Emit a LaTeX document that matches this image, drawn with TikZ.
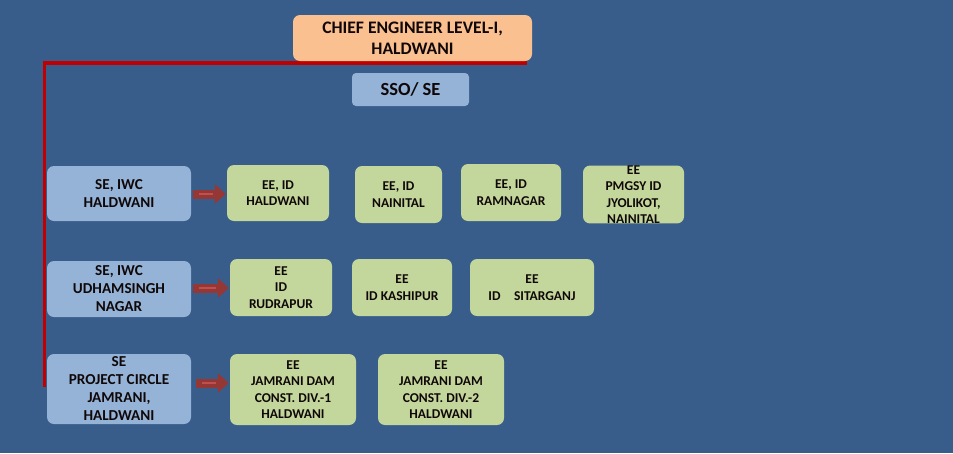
\documentclass[tikz,border=0pt]{standalone}
\usepackage{fontspec}
\setmainfont{Carlito}
\usetikzlibrary{arrows.meta}
\definecolor{bg}{HTML}{385D8A}
\definecolor{bluebox}{HTML}{95B3D7}
\definecolor{greenbox}{HTML}{C3D69B}
\definecolor{peach}{HTML}{FAC090}
\definecolor{redline}{HTML}{C00000}
\definecolor{arrowdark}{HTML}{953735}
\definecolor{arrowlight}{HTML}{C0504D}
\definecolor{txt}{HTML}{100808}
\tikzset{
  box/.style={rounded corners=7pt, inner sep=0pt, align=center, text=txt},
  sebox/.style={box, fill=bluebox, font=\fontsize{15.2}{18}\selectfont\bfseries},
  eebox/.style={box, fill=greenbox, font=\fontsize{13.5}{16.4}\selectfont\bfseries},
  blockarrow/.style={line width=9pt, arrowdark, -{Triangle[length=11pt,width=19pt]}, shorten <=2pt, shorten >=1pt},
  arrowshine/.style={line width=2.5pt, arrowlight, shorten <=8pt, shorten >=14pt},
}
\begin{document}
\begin{tikzpicture}[x=1pt,y=-1pt]
\fill[bg] (0,0) rectangle (953,453);
\useasboundingbox (0,0) rectangle (953,453);
% red organisation line (behind boxes)
\coordinate (lineR) at (527,63);
\coordinate (lineC) at (44.5,63);
\coordinate (lineB) at (44.5,387);
\draw[redline, line width=3.2pt] (lineR) -- (lineC) -- (lineB);
% top
\node[box, fill=peach, minimum width=239pt, minimum height=46pt,
      font=\fontsize{17.6}{21}\selectfont\bfseries] (chief) at (412.5,38)
      {CHIEF ENGINEER LEVEL-I,\\HALDWANI};
\node[box, fill=bluebox, rounded corners=4pt, minimum width=117pt, minimum height=33pt,
      font=\fontsize{18.5}{20}\selectfont\bfseries] (sso) at (410.5,89.5) {SSO/ SE};
% row 1
\node[sebox, minimum width=144pt, minimum height=55pt] (se1) at (119,193.5) {SE, IWC\\HALDWANI};
\node[eebox, minimum width=102pt, minimum height=56pt] (ee1a) at (278,193) {EE, ID\\HALDWANI};
\node[eebox, minimum width=87pt, minimum height=57pt] (ee1b) at (398.5,194.5) {EE, ID\\NAINITAL};
\node[eebox, minimum width=100pt, minimum height=57pt] (ee1c) at (511,192.5) {EE, ID\\RAMNAGAR};
\node[eebox, minimum width=101pt, minimum height=57pt] (ee1d) at (633.5,194.5) {EE\\PMGSY ID\\JYOLIKOT,\\NAINITAL};
% row 2
\node[sebox, minimum width=144pt, minimum height=56pt] (se2) at (119,289) {SE, IWC\\UDHAMSINGH\\NAGAR};
\node[eebox, minimum width=102pt, minimum height=57pt] (ee2a) at (281,287.5) {EE\\ID\\RUDRAPUR};
\node[eebox, minimum width=100pt, minimum height=57pt] (ee2b) at (402,287.5) {EE\\ID KASHIPUR};
\node[eebox, minimum width=124pt, minimum height=57pt] (ee2c) at (532,287.5) {EE\\ID\quad SITARGANJ};
% row 3
\node[sebox, minimum width=144pt, minimum height=70pt] (se3) at (119,389) {SE\\PROJECT CIRCLE\\JAMRANI,\\HALDWANI};
\node[eebox, minimum width=126pt, minimum height=71pt] (ee3a) at (293,389.5) {EE\\JAMRANI DAM\\CONST. DIV.-1\\HALDWANI};
\node[eebox, minimum width=126pt, minimum height=71pt] (ee3b) at (441,389.5) {EE\\JAMRANI DAM\\CONST. DIV.-2\\HALDWANI};
% arrows
\draw[blockarrow] (se1.east |- 0,194) -- (ee1a.west |- 0,194);
\draw[arrowshine] (se1.east |- 0,194) -- (ee1a.west |- 0,194);
\draw[blockarrow] (se2.east |- 0,288) -- (ee2a.west |- 0,288);
\draw[arrowshine] (se2.east |- 0,288) -- (ee2a.west |- 0,288);
\draw[blockarrow, shorten <=5pt] (se3.east |- 0,383) -- (ee3a.west |- 0,383);
\draw[arrowshine, shorten <=11pt] (se3.east |- 0,383) -- (ee3a.west |- 0,383);
\end{tikzpicture}
\end{document}
